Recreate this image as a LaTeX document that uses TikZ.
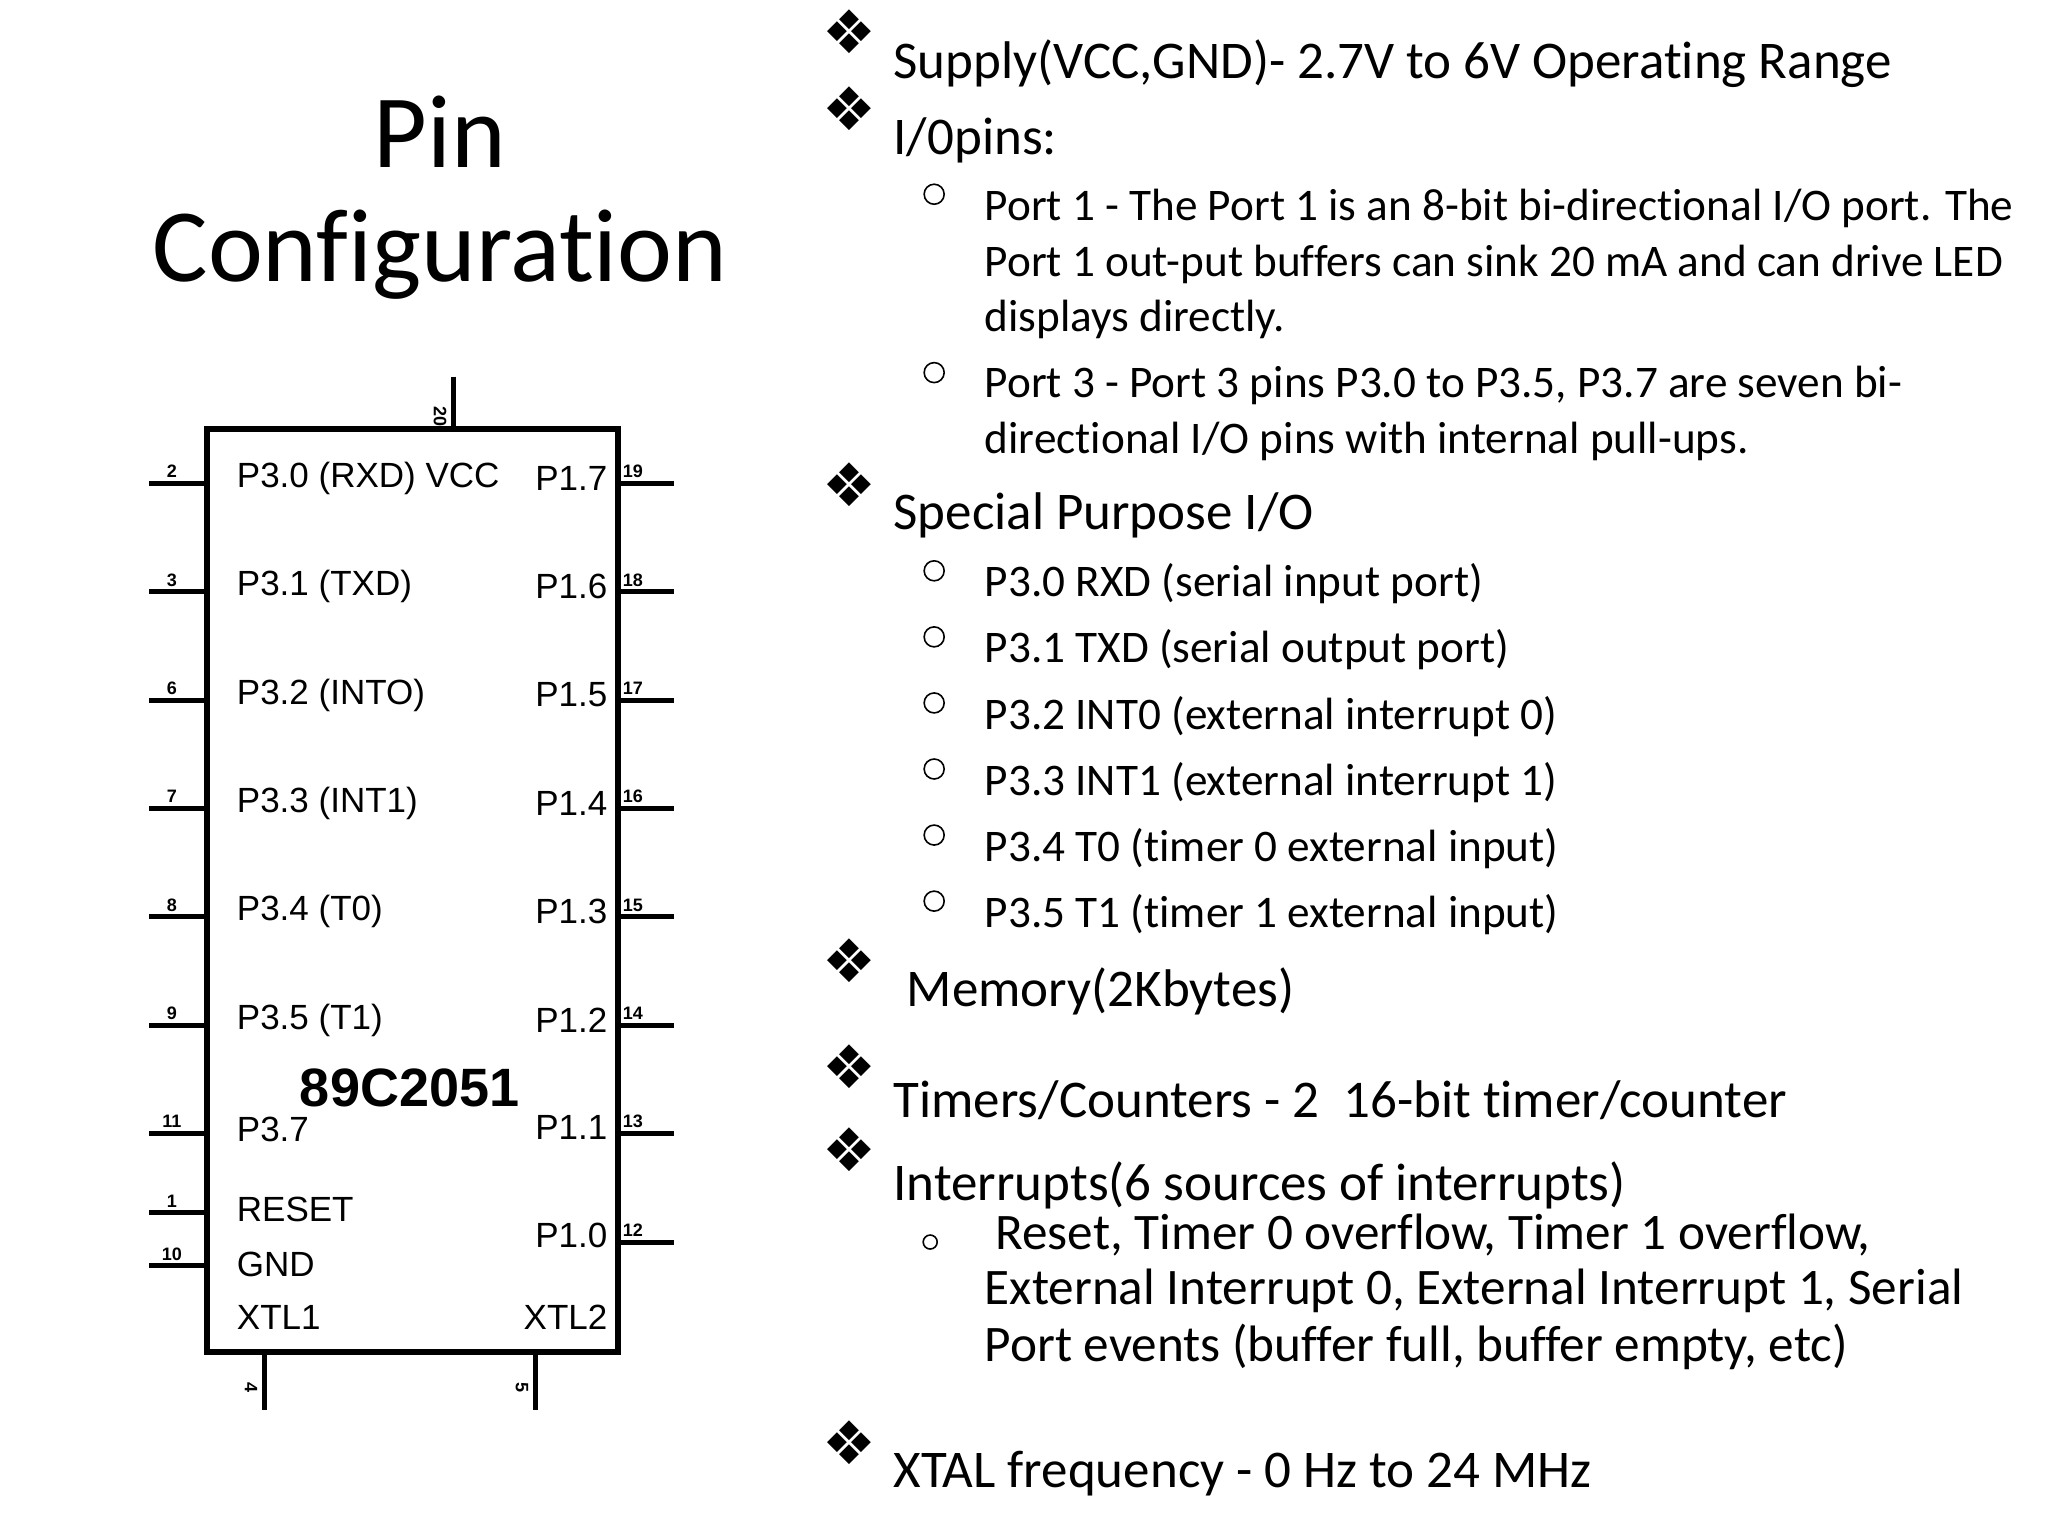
\documentclass[tikz,border=0pt]{standalone}
\usepackage{fontspec}
\setmainfont{Carlito}[Ligatures=NoCommon]
\newfontfamily\arialf{Liberation Sans}
\newfontfamily\dejavu{DejaVu Sans}
\begin{document}
\begin{tikzpicture}[x=0.6605pt,y=-0.6605pt,
  pinl/.style={line width=2.5pt},
  chiplbl/.style={font=\arialf\fontsize{17.5}{20}\selectfont,inner sep=0pt},
  pnum/.style={font=\arialf\bfseries\fontsize{9}{10}\selectfont,inner sep=0pt},
  main/.style={font=\fontsize{26.5}{30}\selectfont,anchor=west,inner sep=0pt},
  sub/.style={font=\fontsize{22.6}{26}\selectfont,anchor=west,inner sep=0pt},
  isub/.style={font=\fontsize{25.6}{30}\selectfont,anchor=west,inner sep=0pt},
  dia/.style={font=\dejavu\fontsize{30}{32}\selectfont,inner sep=0pt},
  circ/.style={circle,draw,line width=0.8pt,minimum size=10pt,inner sep=0pt}]
\useasboundingbox[fill=white] (0,0) rectangle (1550,1163);
% title
\node[font=\fontsize{52}{60}\selectfont] (t1) at (333,100) {Pin};
\node[font=\fontsize{52}{60}\selectfont] (t2) at (333,193) {Configuration};
% chip
\draw[line width=3pt] (157,325) rectangle (468,1023);
\node (chip) at (312,674) {};
% left pins
\foreach \y/\n in {366/2,448/3,530/6,612/7,694/8,776/9,858/11,918/1,958/10}{
  \draw[pinl] (113,\y) -- (157,\y);
  \node[pnum] at (130,\y-9) {\n};}
\foreach \y/\n in {366/19,448/18,530/17,612/16,694/15,776/14,858/13,940/12}{
  \draw[pinl] (468,\y) -- (510,\y);
  \node[pnum] at (479,\y-9) {\n};}
\draw[pinl] (343,285) -- (343,325);
\node[pnum,rotate=-90] at (333,315) {20};
\draw[pinl] (200,1023) -- (200,1067);
\node[pnum,rotate=-90] at (190,1050) {4};
\draw[pinl] (405,1023) -- (405,1067);
\node[pnum,rotate=-90] at (395,1050) {5};
% labels
\foreach \y/\t in {362/{P3.0 (RXD) VCC},444/{P3.1 (TXD)},526/{P3.2 (INTO)},608/{P3.3 (INT1)},690/{P3.4 (T0)},772/{P3.5 (T1)},855/{P3.7},915/{RESET},957/{GND},997/{XTL1}}
  \node[chiplbl,anchor=west] at (179,\y) {\t};
\foreach \y/\t in {362/{P1.7},444/{P1.6},526/{P1.5},608/{P1.4},690/{P1.3},772/{P1.2},853/{P1.1},935/{P1.0},997/{XTL2}}
  \node[chiplbl,anchor=east] at (460,\y) {\t};
\node[font=\arialf\bfseries\fontsize{27}{30}\selectfont] at (310,823) {89C2051};
% right text
\foreach \y in {24,82,367,727,807,870,1092} \node[dia] at (643,\y) {❖};
\node[main] at (676,48) {Supply(VCC,GND)- 2.7V to 6V Operating Range};
\node[main] at (676,106) {I/0pins:};
\node[circ] at (707,147) {};
\node[sub] at (745,158) {Port 1 - The Port 1 is an 8-bit bi-directional I/O port. The};
\node[sub] at (745,200) {Port 1 out-put buffers can sink 20 mA and can drive LED};
\node[sub] at (745,242) {displays directly.};
\node[circ] at (707,282) {};
\node[sub] at (745,292) {Port 3 - Port 3 pins P3.0 to P3.5, P3.7 are seven bi-};
\node[sub] at (745,334) {directional I/O pins with internal pull-ups.};
\node[main] at (676,390) {Special Purpose I/O};
\foreach \y/\t in {442/{P3.0 RXD (serial input port)},492/{P3.1 TXD (serial output port)},542/{P3.2 INT0 (external interrupt 0)},592/{P3.3 INT1 (external interrupt 1)},642/{P3.4 T0 (timer 0 external input)},692/{P3.5 T1 (timer 1 external input)}}{
  \node[circ] at (707,\y-10) {};
  \node[sub] at (745,\y) {\t};}
\node[main] at (686,750) {Memory(2Kbytes)};
\node[main] at (676,833) {Timers/Counters - 2\ \ 16-bit timer/counter};
\node[main] at (676,897) {Interrupts(6 sources of interrupts)};
\node[circ,minimum size=7pt] at (704,940) {};
\node[isub] at (753,935) {Reset, Timer 0 overflow, Timer 1 overflow,};
\node[isub] at (745,977) {External Interrupt 0, External Interrupt 1, Serial};
\node[isub] at (745,1019) {Port events (buffer full, buffer empty, etc)};
\node[main] at (676,1115) {XTAL frequency - 0 Hz to 24 MHz};
\end{tikzpicture}
\end{document}
